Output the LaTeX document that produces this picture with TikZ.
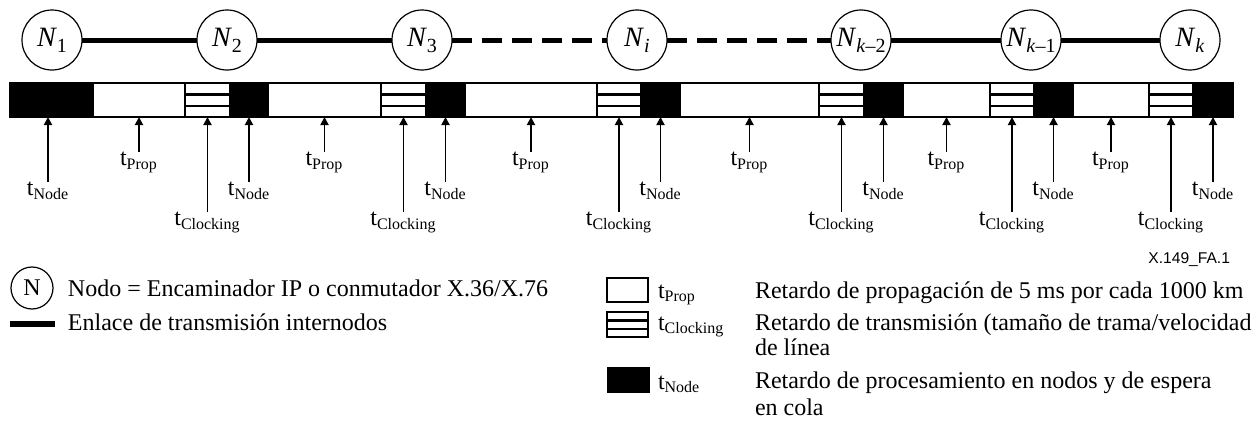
\documentclass[tikz,border=0pt]{standalone}
\usepackage{fontspec}
\setmainfont{Liberation Serif}
\newfontfamily\sansf{Liberation Sans}
\usetikzlibrary{arrows.meta,calc}
\newcommand\tsub[1]{t\textsubscript{#1}}
\newcommand\nsub[1]{\raisebox{-3pt}{\fontsize{10}{10}\selectfont #1}}
\newcommand\NN[1]{\textit{N}\nsub{#1}}
\begin{document}
\begin{tikzpicture}[x=0.5pt,y=-0.5pt,
  every node/.style={inner sep=0pt, outer sep=0pt},
  netnode/.style={circle, draw, line width=0.6pt, minimum size=30pt, font=\fontsize{14}{14}\selectfont},
  legnode/.style={circle, draw, line width=0.6pt, minimum size=21pt, font=\fontsize{12}{12.5}\selectfont},
  link/.style={line width=2.5pt},
  dlink/.style={line width=2.5pt, dash pattern=on 10pt off 5pt},
  seg/.style={draw, line width=0.6pt, minimum height=17pt},
  propseg/.style={seg, fill=white},
  nodeseg/.style={seg, fill=black},
  clockseg/.style={seg, path picture={
     \draw[line width=1.2pt]
       ($(path picture bounding box.north west)!0.34!(path picture bounding box.south west)$) --
       ($(path picture bounding box.north east)!0.34!(path picture bounding box.south east)$)
       ($(path picture bounding box.north west)!0.68!(path picture bounding box.south west)$) --
       ($(path picture bounding box.north east)!0.68!(path picture bounding box.south east)$);}},
  arr/.style={-{Triangle[width=4pt,length=4pt]}, line width=0.9pt},
  lab/.style={anchor=north, font=\fontsize{12}{12.5}\selectfont},
  txt/.style={anchor=base west, font=\fontsize{12}{12.5}\selectfont},
]
\useasboundingbox (0,0) rectangle (1260,423);

% network nodes
\node[netnode] (n1) at (52,40) {\NN{1}};
\node[netnode] (n2) at (227,40) {\NN{2}};
\node[netnode] (n3) at (422,40) {\NN{3}};
\node[netnode] (ni) at (637,40) {\NN{\textit{i}}};
\node[netnode] (nk2) at (861,40) {\NN{\textit{k}–2}};
\node[netnode] (nk1) at (1031,40) {\NN{\textit{k}–1}};
\node[netnode] (nk) at (1190,40) {\NN{\textit{k}}};
\draw[link] (n1) -- (n2);
\draw[link] (n2) -- (n3);
\draw[dlink] (n3) -- (ni);
\draw[dlink] (ni) -- (nk2);
\draw[link] (nk2) -- (nk1);
\draw[link] (nk1) -- (nk);

% delay bar
\node[nodeseg, minimum width=41.5pt] (s1) at (51.5,100) {};
\node[propseg, minimum width=46pt] (s2) at (139,100) {};
\node[clockseg, minimum width=22.5pt] (s3) at (207.5,100) {};
\node[nodeseg, minimum width=19pt] (s4) at (249,100) {};
\node[propseg, minimum width=56.5pt] (s5) at (324.5,100) {};
\node[clockseg, minimum width=22.5pt] (s6) at (403.5,100) {};
\node[nodeseg, minimum width=19.5pt] (s7) at (445.5,100) {};
\node[propseg, minimum width=66pt] (s8) at (531,100) {};
\node[clockseg, minimum width=22pt] (s9) at (619,100) {};
\node[nodeseg, minimum width=19.5pt] (s10) at (660.5,100) {};
\node[propseg, minimum width=69.5pt] (s11) at (749.5,100) {};
\node[clockseg, minimum width=22.5pt] (s12) at (841.5,100) {};
\node[nodeseg, minimum width=19.5pt] (s13) at (883.5,100) {};
\node[propseg, minimum width=43.5pt] (s14) at (946.5,100) {};
\node[clockseg, minimum width=22pt] (s15) at (1012,100) {};
\node[nodeseg, minimum width=19.5pt] (s16) at (1053.5,100) {};
\node[propseg, minimum width=38pt] (s17) at (1111,100) {};
\node[clockseg, minimum width=22pt] (s18) at (1171,100) {};
\node[nodeseg, minimum width=20pt] (s19) at (1213,100) {};

% labels and arrows
\node[lab] (l1) at ([xshift=-1.75pt,yshift=-32.5pt]s1.south) {\tsub{Node}};
\draw[arr] (l1.north) -- (l1.north |- s1.south);
\foreach \i in {4,7,10,13,16,19} {
  \node[lab] (l\i) at ([yshift=-32.5pt]s\i.south) {\tsub{Node}};
  \draw[arr] (l\i.north) -- (s\i.south);
}
\foreach \i in {2,5,8,11,14,17} {
  \node[lab] (l\i) at ([yshift=-17.5pt]s\i.south) {\tsub{Prop}};
  \draw[arr] (l\i.north) -- (s\i.south);
}
\foreach \i in {3,6,9,12,15,18} {
  \node[lab] (l\i) at ([yshift=-47.5pt]s\i.south) {\tsub{Clocking}};
  \draw[arr] (l\i.north) -- (s\i.south);
}

\node[anchor=base east, font=\sansf\fontsize{7.8}{8}\selectfont] (fig) at (1230,263) {X.149\_FA.1};

% legend left
\node[legnode] (legN) at (32,288) {N};
\node[txt] (legNt) at (68,296) {Nodo = Encaminador IP o conmutador X.36/X.76};
\coordinate (lk1) at (10,324);
\coordinate (lk2) at (55,324);
\draw[line width=3pt] (lk1) -- (lk2);
\node[txt] (legLt) at (68,330) {Enlace de transmisión internodos};

% legend right
\node[propseg, minimum width=20.5pt, minimum height=12pt] (lp) at (627.5,290) {};
\node[txt] (lpt) at (658,298) {\tsub{Prop}};
\node[txt] (lpd) at (755,298) {Retardo de propagación de 5 ms por cada 1000 km};
\node[clockseg, minimum width=20.5pt, minimum height=12.5pt] (lc) at (627.5,324.5) {};
\node[txt] (lct) at (658,330) {\tsub{Clocking}};
\node[txt] (lcd) at (755,330) {Retardo de transmisión (tamaño de trama/velocidad};
\node[txt] (lcd2) at (755,355) {de línea};
\node[nodeseg, minimum width=20.5pt, minimum height=12pt] (ln) at (628.5,380) {};
\node[txt] (lnt) at (658,389) {\tsub{Node}};
\node[txt] (lnd) at (755,388) {Retardo de procesamiento en nodos y de espera};
\node[txt] (lnd2) at (755,415) {en cola};
\end{tikzpicture}
\end{document}
